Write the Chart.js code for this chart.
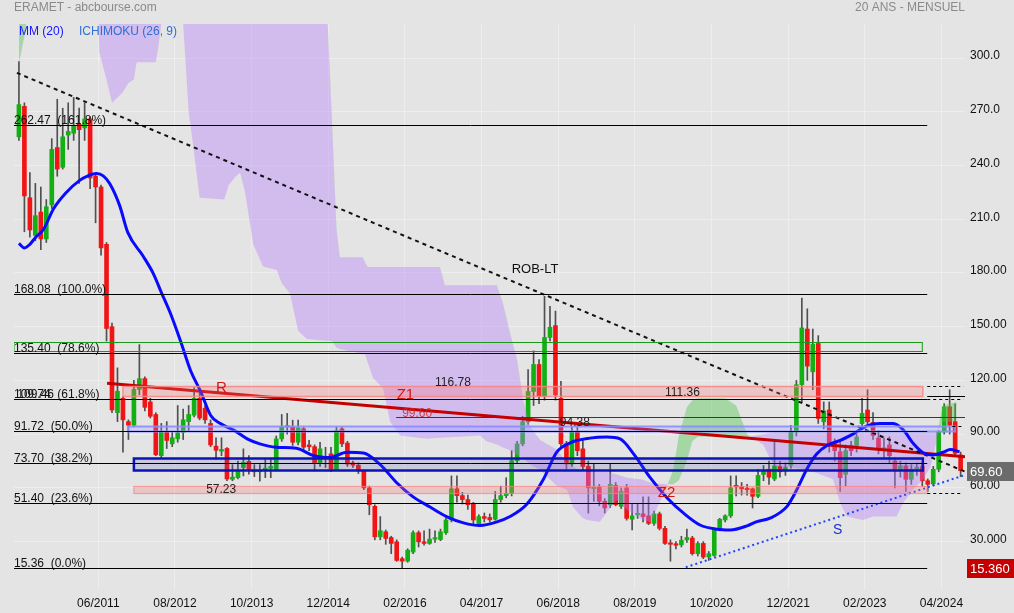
<!DOCTYPE html>
<html>
<head>
<meta charset="utf-8">
<script src="https://cdn.jsdelivr.net/npm/chart.js@4.4.1/dist/chart.umd.min.js"></script>
<style>
html, body { margin: 0; padding: 0; background: #e4e4e4; }
canvas { display: block; }
</style>
</head>
<body>
<canvas id="chart" width="1014" height="613"></canvas>
<script>
// monthly candles, index 0 = 03/2010
const firstYear = 2010, firstMonth = 3;

const opens = [256,273,222,201,214,199,218,250,239,257,
  258,263,261,266,234,228,196,150,102,110,
  97,95,115,121,108,101,78,91,84.6,87.4,
  91,97,100.6,110,104.5,96,83.3,80.5,82,64.8,
  65.7,71.4,74.8,70,69,70,71,70.4,87.4,94,
  94,85.5,93,84,83,74,77.5,79,70.4,93,
  85,74,72.7,69.5,60,49.7,32.7,35.5,32.3,29.9,
  20.5,19.1,24.2,35,29.9,29,31.4,31.2,35,42.1,
  59.5,55.7,53.5,51,39.3,44,43.5,42.5,53.5,55.7,
  56.8,75.2,84.6,96.9,113.8,128.9,111,144,150.6,110,
  84.6,73.3,91.2,81.8,72,59.5,60.5,52.5,50.6,61.4,
  49.7,60,42.5,45,45.5,44.4,40.2,45.5,37.4,29,
  28.6,28.2,31,32,23.3,29,21.4,22.3,36.5,42.1,
  44.4,61.4,60.6,59.5,59.5,55.3,67.5,70.4,65,72,
  69.5,72.7,91.2,117.6,148.7,124.8,140.6,96.9,103.5,85.5,
  80.2,67.6,83.7,83.7,95.9,103.5,96.5,87.8,81.5,84,
  75,70,72.3,64.8,70.5,72,64,62.3,70.4,91.2,
  105.3,97,78.4];
const highs = [298,275,236,230,228,221,255,277,272,275,
  278,272,275,267,236,229,197,152,127,111,
  98,120,140,122,110,102,96,97,91,106,
  104,106,116,113,106,98,88,88,82.5,73,
  75,81.8,78,73,73,76,76,89,101,101.6,
  97.8,97.8,94,86.5,84,85.5,82.7,82.7,94,94,
  86,75,74,70,61,50.6,44,36.5,33,31,
  21.4,26,36,36,36,37,36,37,43,66.7,
  66.7,57.5,56,52,45,46,45.5,58,61,65.7,
  80.8,86,100,126,136.5,131.7,167,161.4,158.7,119.5,
  86,94,95,87.4,75,73.3,62,54,73.3,63,
  60,62,51,51,55,55,47,46.5,38.5,31,
  30,33,37,33,30,30,24.5,37,43,45,
  66.7,66.7,63,62,60,70.4,72.5,75,87,75,
  74,95,120,166,160,148.7,145,108,108,87.4,
  86.5,84,86,90,110,114.8,102,92,88,88.5,
  77,75,74,73,74,73.5,65,72,92,107,
  114.8,107,80];
const lows = [254,203,200,198,193,197,216,234,238,249,
  254,230,254,227,208,190,142,102,97,80,
  87,94,112,103,99,78,77,82,83,85.5,
  87,92,99.7,98,96,83,76,78,64,64,
  65,66.7,67.6,66.3,63.8,65.7,65.7,69.5,86,90,
  83.7,84,80.8,80.8,69.5,72,71.4,69,70,83,
  72,71.4,68,59,45,31,31,28.5,23.3,19,
  15.36,18.5,23.3,27,28,28.5,29.5,30.5,34,41,
  52,51,48,40,38.5,41,41,42,52,54.5,
  55.5,74,83.5,95.5,106,107,109,142,109,83,
  70.4,72,78,70,45.9,52.5,50,46,49,50,
  48.5,42,36.5,43,41,39.5,39,36.5,28.5,19.1,
  26,27,29.5,22.5,22,20.5,19.5,21.8,36,41,
  43.5,55.5,56,56,48.8,54.5,64,62,64,66,
  67,71,89,108,120,114.8,96,93,80,75,
  58,61,78,80,93,95,87,79,77,74,
  60,66,58,62,67,61,58,61.5,69,90,
  90,78,66.3];
const closes = [274,223,204,212,199,217,249,238,256,259,
  262,260,266,233,228,194,149,103.5,114,98,
  95,115,121,105,100,78.5,91,86.5,88,90.8,
  98,101,110,99,98,84,81,81.5,65,66,
  69.5,74.2,70.4,69,70,71,72,87.4,94,94.6,
  85.5,93.5,82.7,83,73.8,81.8,76.8,70.4,92,84.6,
  73.3,72.7,69.5,60,50.6,32.7,36.1,31.8,29,19.5,
  19.1,25.2,35,29.9,29,31.4,32,35.5,42.1,59.5,
  55.7,53.5,50.6,42.1,44,43,42.2,53.5,55.7,57,
  75.2,84.6,96.9,113.8,128.9,111,144,149.7,112,84.6,
  73.3,91.2,80.8,72,60,60.5,52.5,48.8,62,50.6,
  58.2,43,44.4,45.8,44,40.2,45.5,37.4,29,28.5,
  28,30.8,32.3,23.3,29,21.4,23.3,36.5,42.5,44.4,
  60,60.6,59.5,59,55.3,67,69.5,66,72.3,69,
  71.4,91.2,117.6,149.3,128,140.2,98.8,103,84.6,80.8,
  65.7,80.8,80.8,88.4,101.6,96.9,89.3,81.8,82.5,78,
  70.4,72.3,64.8,70.4,71.5,64,62,70.4,91.2,105.3,
  95,79.3,69.6];

// MM (20)
const mmIdx = [0,1,2,3,4.5,6.3,8.7,11.1,12.6,14.2,15.4,16.6,18.4,19.9,22.7,24.5,26.1,27.7,29.5,31.4,33.2,35,36.8,39.3,41.7,44,47,50.7,53.8,56.8,59.9,62.9,65.9,69,72,75.1,78.1,81.2,84.2,87.3,89.7,92.8,95.8,98.2,100.7,104.3,107.4,109.8,112.3,115.3,118.4,121.4,124.4,127.5,129.9,133,134.8,137.2,140.3,142.1,143.9,145.7,147.6,150,152.4,154.9,157.3,159.7,161.6,163.4,165.2,167,168.8,170.1,171.8];
const mmVal = [196.5,194,196,199.7,204.4,215.7,225.1,231.7,234.2,235.5,234.2,229.8,217.6,202.5,189.3,179.9,168.5,157.2,142.1,125.1,113.8,100.6,95.9,92.1,87.4,84.6,82.7,82.1,78,77,79.9,79.5,73.3,62.9,55,49.3,44,40.5,39,41,44,51,64.8,79.9,85.2,87.8,88.4,87.4,78.9,65.7,54.4,45.9,39.3,36.9,36.5,38.8,41.2,43.1,49.7,59.1,70.4,78.9,83.7,86.5,90.2,94.6,95.9,95.9,92.1,84.6,79.5,78.4,79.9,81.4,80.2];

// Ichimoku cloud edges (span A / span B)
const cloudIdx = [0,1,1.6,8,14.4,14.7,16,17,18,19,20,21,21.5,25,25.5,26,26.5,29.8,
  30,31,32,33,37.5,38.3,39.5,40.4,41.3,42.8,44.6,47.1,48,49.5,51,52.6,56,56.4,57.2,58,58.6,62.8,63.2,63.7,64.7,66.5,67.8,69.6,74.5,76.9,77.8,84.2,85.4,87.3,88.4,89.7,91,92.1,93.4,95.2,97.6,98.3,100.1,101.2,103,103.8,106.1,107.4,109.2,111,113.4,114,115.3,115.8,116.6,118,
  119.5,120.5,122,123,124,129,131,132,133,
  134,136,137.8,143.9,148.7,150,151.2,154.2,156,160.3,161.5,163.3,165.2,166.5,167.5,
  168.3,168.8,171.3];
const spanA = [345,345,345,345,330,303,288,275,278,281,286,288,297.6,297.6,307,319,335,335,
  319,270,247,222,221,229,233.6,236,225,196,183.6,181.7,174.2,168.5,147.8,143.1,142.1,142.1,142,138.4,137.5,134.8,134.6,130,121.4,115.7,96.9,89.3,87.4,88,88.2,89.3,86,84.3,82.5,81,78.5,76.5,73,70,63,61,59,49.4,43,42.1,41,46.6,53.3,48,43,42,41,43,49.4,58,
  70,88.5,105,109,110,110,106,98,90,
  88,84,72.3,70.4,64.8,51.6,44,42.1,44,44,51.6,59.1,64.8,72,85,
  100,106,108];
const spanB = [297,312,325,345,360,360,360,360,360,360,360,360,360,360,360,360,360,360,
  360,360,360,360,360,360,360,360,360,360,360,360,360,360,360,360,340,319,263.6,205,188.8,188.8,186,183.3,183.3,183.3,183.3,183.3,183.3,183.3,173.2,173.2,173.2,173.2,163.2,146.5,131.4,109.1,94,86.8,82.5,81.2,73.9,72,68.9,68.9,68.9,68.9,67.5,65.6,64.8,64.5,63,62.8,62.5,62,
  62,64,75,86,88.5,88.5,88.5,88.5,88.5,
  89,90,91,91,91,91,91,91,91,91,91,91,91,91,91,
  94,97,97];

// trend lines [index, price]
const robIdx = [-0.37, 172.8], robVal = [291.7, 69.1];
const rIdx = [16.1, 172.8], rVal = [118.4, 77.4];
const sIdx = [121.8, 172.8], sVal = [15.7, 67.2];

// Fibonacci levels
const fibLevels = [262.47, 168.08, 135.40, 109.74, 91.72, 73.70, 51.40, 15.36];
const fibPct = ['161.8', '100.0', '78.6', '61.8', '50.0', '38.2', '23.6', '0.0'];
const fibEnd = 165.9;

// zones: Z1, Z2, 50% band, support box, 78.6% box
const zoneLo = [111.36, 57.23, 91.72, 70.0, 136.3];
const zoneHi = [116.78, 61.0, 94.38, 76.8, 141.3];
const zoneFrom = [19.0, 21.0, 19.9, 21.0, -0.9];
const zoneTo = [165.1, 165.9, 171.0, 165.1, 165.0];

// short level lines on the right
const extraLevels = [116.78, 111.36, 109.74, 94.38, 57.23];
const extraFrom = [165.9, 165.9, 165.9, 170.5, 165.9];
const extraTo = [172.5, 172.8, 172.5, 172.5, 172.3];
const redLevel = 99.60, redFrom = 68.9;

// level labels
const levelLabels = ['116.78', '111.36', '99.60', '94.38', '57.23'];
const levelIdx = [76, 118, 70, 98.8, 34.2];
const levelVal = [116.78, 111.36, 99.60, 94.38, 57.23];

// drawing names
const markTexts = ['ROB-LT', 'R', 'Z1', 'Z2', 'S'];
const markIdx = [90, 36, 69, 116.7, 148.7];
const markVal = [180.5, 114.1, 110.2, 55.5, 34.9];

const xTickLabels = ['06/2011','08/2012','10/2013','12/2014','02/2016','04/2017','06/2018','08/2019','10/2020','12/2021','02/2023','04/2024'];
const yTickValues = [30, 60, 90, 120, 150, 180, 210, 240, 270, 300];
const yTickLabels = ['30.000', '60.00', '90.00', '120.00', '150.00', '180.00', '210.0', '240.0', '270.0', '300.0'];

const FONT = '"Liberation Sans", Arial, sans-serif';

function monthIndex(label) {
  const m = parseInt(label.substr(0, 2)), y = parseInt(label.substr(3, 4));
  return (y - firstYear) * 12 + (m - firstMonth);
}
const pts = (xs, ys) => xs.map((v, k) => ({x: v, y: ys[k]}));
const candleIdx = opens.map((o, i) => i);

const annotations = {
  id: 'annotations',
  beforeDraw(chart) {
    const c = chart.ctx;
    c.save();
    c.fillStyle = '#e4e4e4';
    c.fillRect(0, 0, chart.width, chart.height);
    c.restore();
  },
  afterDatasetsDraw(chart) {
    const c = chart.ctx, a = chart.chartArea;
    const px = v => chart.scales.x.getPixelForValue(v);
    const py = v => Math.round(chart.scales.y.getPixelForValue(v)) + 0.5;
    c.save();
    c.beginPath();
    c.rect(a.left, a.top, a.right - a.left, a.bottom - a.top);
    c.clip();

    // zones
    const fills = ['rgba(250,120,120,0.28)', 'rgba(250,120,120,0.28)', 'rgba(150,150,255,0.25)', 'rgba(90,90,190,0.2)', null];
    const strokes = ['rgba(250,130,130,0.85)', 'rgba(250,130,130,0.7)', 'rgba(140,140,255,0.9)', '#0a14b4', '#1a9a1a'];
    const widths = [1.5, 1.2, 2, 2.5, 1];
    for (let k = 0; k < zoneLo.length; k++) {
      const x1 = px(zoneFrom[k]), x2 = px(zoneTo[k]);
      const y1 = py(zoneHi[k]), y2 = py(zoneLo[k]);
      if (fills[k]) {
        c.fillStyle = fills[k];
        c.fillRect(x1, y1, x2 - x1, y2 - y1);
      }
      c.strokeStyle = strokes[k];
      c.lineWidth = widths[k];
      c.strokeRect(x1, y1, x2 - x1, y2 - y1);
    }

    // fibonacci lines
    c.strokeStyle = '#000';
    c.lineWidth = 1;
    fibLevels.forEach(l => {
      c.beginPath();
      c.moveTo(a.left, py(l));
      c.lineTo(px(fibEnd), py(l));
      c.stroke();
    });

    // right-hand level lines
    for (let k = 0; k < extraLevels.length; k++) {
      c.setLineDash(k === 1 ? [] : [3, 3]);
      c.beginPath();
      c.moveTo(px(extraFrom[k]), py(extraLevels[k]));
      c.lineTo(px(extraTo[k]), py(extraLevels[k]));
      c.stroke();
    }
    c.setLineDash([]);
    c.strokeStyle = '#c00000';
    c.beginPath();
    c.moveTo(px(redFrom), py(redLevel));
    c.lineTo(a.right, py(redLevel));
    c.stroke();

    // texts
    c.textBaseline = 'alphabetic';
    c.textAlign = 'left';
    c.font = '12px ' + FONT;
    c.fillStyle = '#111';
    fibLevels.forEach((l, k) => {
      c.fillText(l.toFixed(2) + '  (' + fibPct[k] + '%)', a.left, py(l) - 2);
    });
    c.fillText('109.46', a.left + 3.3, py(109.74) - 2);

    levelLabels.forEach((t, k) => {
      c.fillStyle = t === '99.60' ? 'rgba(205,40,40,0.85)' : '#222';
      c.fillText(t, px(levelIdx[k]), py(levelVal[k]) - 1);
    });

    markTexts.forEach((t, k) => {
      if (t === 'ROB-LT') { c.font = '13px ' + FONT; c.fillStyle = '#111'; }
      else if (t === 'S') { c.font = '14px ' + FONT; c.fillStyle = '#1a2fd0'; }
      else { c.font = '15px ' + FONT; c.fillStyle = '#d01818'; }
      c.fillText(t, px(markIdx[k]), py(markVal[k]));
    });
    c.restore();
  },
  afterDraw(chart) {
    const c = chart.ctx, a = chart.chartArea;
    const py = v => chart.scales.y.getPixelForValue(v);
    c.save();
    c.textBaseline = 'middle';
    c.font = '12px ' + FONT;
    c.fillStyle = '#8a8a8a';
    c.textAlign = 'left';
    c.fillText('ERAMET - abcbourse.com', 14, 8);
    c.textAlign = 'right';
    c.fillText('20 ANS - MENSUEL', a.right, 8);
    c.textAlign = 'left';
    c.fillStyle = '#1515ff';
    c.fillText('MM (20)', 19, 32);
    c.fillStyle = '#2f6fd6';
    c.fillText('ICHIMOKU (26, 9)', 79, 32);

    // price badges
    const badge = (v, txt, bg) => {
      const yy = Math.round(py(v));
      c.fillStyle = bg;
      c.fillRect(a.right + 2, yy - 9, chart.width - a.right - 2, 19);
      c.fillStyle = '#fff';
      c.font = '13px ' + FONT;
      c.fillText(txt, a.right + 5, yy + 1);
    };
    badge(closes[closes.length - 1], closes[closes.length - 1].toFixed(2), '#6b6b6b');
    const minLow = Math.min(...lows);
    badge(minLow, minLow.toFixed(3), '#c40000');
    c.restore();
  }
};

new Chart(document.getElementById('chart'), {
  type: 'bar',
  data: {
    datasets: [
      { type: 'line', data: pts(mmIdx, mmVal), borderColor: '#0a0aff', borderWidth: 3,
        pointRadius: 0, cubicInterpolationMode: 'monotone', order: 0 },
      { type: 'line', data: pts(robIdx, robVal), borderColor: '#111', borderWidth: 2,
        borderDash: [4, 4], pointRadius: 0, order: 1 },
      { type: 'line', data: pts(rIdx, rVal), borderColor: '#c40000', borderWidth: 3,
        pointRadius: 0, order: 1 },
      { type: 'line', data: pts(sIdx, sVal), borderColor: '#2244ff', borderWidth: 2,
        borderDash: [2, 3], pointRadius: 0, order: 1 },
      { type: 'line', data: pts(cloudIdx, spanB), borderColor: 'rgba(0,0,0,0)', borderWidth: 1,
        pointRadius: 0, fill: false, order: 2 },
      { type: 'line', data: pts(cloudIdx, spanA), borderColor: 'rgba(0,0,0,0)', borderWidth: 1,
        pointRadius: 0, order: 2,
        fill: { target: 4, above: 'rgba(78,198,78,0.42)', below: 'rgba(183,128,253,0.4)' } },
      { type: 'bar', data: candleIdx.map(i => ({x: i, y: [opens[i], closes[i]]})),
        backgroundColor: candleIdx.map(i => closes[i] >= opens[i] ? '#12b012' : '#f01414'),
        barThickness: 4, minBarLength: 1.5, grouped: false, order: 3 },
      { type: 'bar', data: candleIdx.map(i => ({x: i, y: [lows[i], highs[i]]})),
        backgroundColor: '#505050', barThickness: 1, grouped: false, order: 4 }
    ]
  },
  options: {
    responsive: false,
    animation: false,
    devicePixelRatio: 1,
    layout: { padding: { left: 14, top: 24, right: 0, bottom: 0 } },
    plugins: { legend: { display: false }, tooltip: { enabled: false } },
    scales: {
      x: {
        type: 'linear', min: -0.9, max: 172.8, offset: false,
        grid: { color: 'rgba(255,255,255,0.35)', drawTicks: false, offset: false },
        border: { display: false },
        afterBuildTicks: s => { s.ticks = xTickLabels.map(l => ({ value: monthIndex(l) - 0.5 })); },
        afterFit: s => { s.height = 23; },
        ticks: { autoSkip: false, maxRotation: 0, padding: 6, color: '#111',
          font: { family: FONT, size: 12 }, callback: (v, k) => xTickLabels[k] }
      },
      y: {
        type: 'linear', position: 'right', min: 3, max: 319,
        grid: { color: 'rgba(255,255,255,0.35)', drawTicks: false },
        border: { display: false },
        afterBuildTicks: s => { s.ticks = yTickValues.map(v => ({ value: v })); },
        afterFit: s => { s.width = 49; },
        ticks: { autoSkip: false, padding: 5, labelOffset: -2, color: '#111',
          font: { family: FONT, size: 12 }, callback: (v, k) => yTickLabels[k] }
      }
    }
  },
  plugins: [annotations]
});
</script>
</body>
</html>
